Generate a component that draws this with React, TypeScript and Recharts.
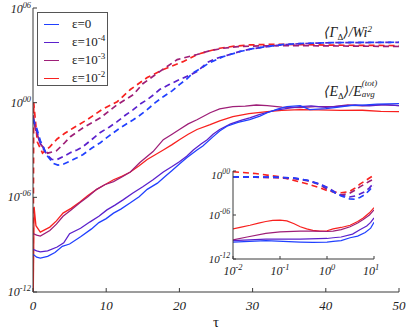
import React from "react";
import { LineChart, Line, XAxis, YAxis, CartesianGrid } from "recharts";

// colours per epsilon
const BLUE = "#2040ff";
const VIOLET = "#5b21cc";
const MAGENTA = "#9e1f78";
const RED = "#f8211f";

// ---- main panel: <E_delta>/E_avg (solid) ----
const tauE0 = [0, 0.5, 1, 2, 3, 4, 5, 6.5, 8, 9, 10, 11, 12, 13.3, 14.5, 15.6, 17, 18, 19, 20, 21, 22.4, 23.2, 24.5, 25.5, 26.5, 28, 29.6, 31, 32, 33.5, 34.7, 36.5, 37.8, 40, 41.5, 43.3, 45, 47, 50];
const energy0 = [2.5e-10, 1.6e-10, 1.4e-10, 1.8e-10, 3.2e-10, 7.9e-10, 1.1e-9, 3.2e-9, 1e-8, 2.5e-8, 4.5e-8, 1e-7, 1.8e-7, 4.5e-7, 1.1e-6, 3.2e-6, 7.9e-6, 2.0e-5, 5.0e-5, 1.3e-4, 3.2e-4, 1e-3, 1.8e-3, 6.3e-3, 1.6e-2, 3.2e-2, 5.6e-2, 8.3e-2, 0.14, 0.23, 0.4, 0.56, 0.65, 0.36, 0.42, 0.5, 0.65, 0.7, 0.8, 0.87];

const tauE4 = [0, 0.5, 1, 2, 3.3, 4.2, 5, 6.5, 7.8, 9, 10.1, 11.2, 12.3, 13.6, 15, 16.4, 17.8, 19, 20, 21, 21.9, 23, 23.8, 24.6, 25.5, 27, 28.5, 29.6, 31, 33, 35, 36.5, 38, 40, 42, 44, 46, 48, 50];
const energy4 = [5.0e-10, 4.0e-10, 3.5e-10, 4.0e-10, 7.1e-10, 1.3e-9, 5.0e-9, 1.1e-8, 2.8e-8, 6.3e-8, 1.6e-7, 3.2e-7, 6.9e-7, 1.8e-6, 4.7e-6, 1.3e-5, 4.0e-5, 8.9e-5, 1.8e-4, 4.0e-4, 1e-3, 2.5e-3, 4.5e-3, 1e-2, 2.0e-2, 4.5e-2, 7.9e-2, 0.11, 0.18, 0.32, 0.45, 0.56, 0.63, 0.5, 0.6, 0.71, 0.63, 0.76, 0.65];

const tauE3 = [0, 0.5, 1, 2.3, 3.2, 4.1, 5.2, 6.4, 7.5, 8.7, 9.8, 11, 12.2, 13.3, 14.6, 16.4, 17.8, 19, 20, 21.2, 22.4, 24.2, 25.5, 27.3, 29, 30.5, 32, 34, 36.5, 38.5, 41, 43, 45, 47.5, 50];
const energy3 = [5.0e-9, 4.0e-9, 3.5e-9, 7.9e-9, 2.0e-8, 6.3e-8, 1.6e-7, 4.5e-7, 1.1e-6, 3.2e-6, 6.3e-6, 1e-5, 2.0e-5, 4.0e-5, 1.6e-4, 7.9e-4, 4.5e-3, 1e-2, 2.0e-2, 4.5e-2, 8.3e-2, 0.23, 0.4, 0.56, 0.6, 0.71, 0.65, 0.52, 0.48, 0.56, 0.56, 0.71, 0.63, 0.76, 0.65];

const tauE2 = [0, 0.15, 0.4, 1, 2.3, 3.2, 4.1, 5.2, 6.4, 7.5, 8.7, 9.8, 11, 12.2, 13.3, 14.5, 15.6, 16.7, 17.8, 19, 20, 21.2, 22.4, 24.2, 25.5, 27.3, 29.5, 32, 34, 36.5, 39, 42, 45, 47.5, 50];
const energy2 = [1e-14, 2.5e-7, 1.6e-8, 6.3e-9, 1.3e-8, 3.2e-8, 1e-7, 2.0e-7, 5.0e-7, 1.3e-6, 3.2e-6, 6.3e-6, 1.3e-5, 2.2e-5, 4.0e-5, 1e-4, 2.5e-4, 5.0e-4, 1e-3, 2.2e-3, 4.5e-3, 1e-2, 2.0e-2, 4.0e-2, 7.1e-2, 0.13, 0.2, 0.27, 0.32, 0.36, 0.35, 0.32, 0.33, 0.28, 0.27];

// ---- main panel: <Gamma_delta>/Wi^2 (dashed) ----
const tauG0 = [0, 0.5, 1, 2, 2.8, 3.4, 4.2, 5.1, 6, 6.8, 8, 9.2, 10.4, 11.6, 12.6, 13.7, 14.6, 15.6, 16.7, 17.8, 19, 20, 21, 21.9, 23, 24, 26, 28.3, 30, 32, 34, 36.5, 41, 45, 50];
const gamma0 = [0.1, 2.5e-2, 4.0e-3, 4.0e-4, 1.4e-4, 1.1e-4, 1.3e-4, 2.0e-4, 3.2e-4, 5.0e-4, 1.3e-3, 2.9e-3, 7.9e-3, 2.0e-2, 4.0e-2, 8.3e-2, 0.16, 0.36, 1, 2.4, 5.6, 13.8, 31.6, 79, 158, 316, 832, 1738, 2630, 3631, 4786, 5623, 6457, 6607, 6761];

const tauG4 = [0, 0.5, 1, 1.9, 2.6, 3.3, 4.2, 5.2, 6, 6.8, 8, 9.2, 10.4, 11.5, 12.6, 13.7, 14.6, 15.6, 16.5, 17.3, 18.6, 20, 21.2, 22.4, 23.8, 25, 26.5, 28.3, 30, 32, 34, 36.5, 41, 45, 50];
const gamma4 = [7.9e-2, 1.6e-2, 2.5e-3, 5.0e-4, 2.5e-4, 2.5e-4, 4.0e-4, 7.1e-4, 1e-3, 1.6e-3, 4.5e-3, 1.3e-2, 2.8e-2, 6.3e-2, 0.16, 0.36, 0.79, 1.55, 3.2, 6.8, 14.1, 28.8, 50, 93, 347, 631, 1000, 1778, 2630, 3548, 4571, 5495, 6310, 6457, 6607];

const tauG3 = [0, 0.3, 1, 2, 3.2, 4.2, 5.1, 6.8, 9.2, 11.5, 13.7, 15, 17.3, 19.7, 22.4, 24.2, 26, 28, 31, 35, 40, 45, 50];
const gamma3 = [0.16, 2.5e-2, 2.5e-3, 6.3e-4, 8.9e-4, 2.5e-3, 6.9e-3, 2.5e-2, 0.11, 0.74, 3.2, 15.8, 93, 537, 1122, 1995, 2818, 3548, 3981, 4169, 3981, 3802, 3631];

const tauG2 = [0, 0.1, 0.6, 1.3, 2.3, 3.3, 4.3, 5.5, 7.4, 9.4, 11.5, 13.3, 15.6, 17.8, 20.5, 22.4, 23.8, 25.5, 27.5, 29.6, 33, 36.5, 40, 45, 50];
const gamma2 = [1e-14, 1, 3.2e-3, 6.3e-4, 1.6e-3, 5.0e-3, 1.1e-2, 2.5e-2, 8.3e-2, 0.36, 1.15, 6.8, 38.9, 126, 398, 1122, 1738, 2818, 3802, 4571, 5012, 4786, 4467, 4266, 4169];

// ---- inset (log time) ----
const insetTauG = [0.01, 0.03, 0.1, 0.2, 0.4, 0.7, 1, 1.5, 2, 3, 4, 5, 6.5, 8, 10];
const insetGamma0 = [0.16, 0.16, 0.14, 0.11, 5.0e-2, 1.6e-2, 5.0e-3, 1e-3, 4.0e-4, 1.6e-4, 1.4e-4, 2.5e-4, 6.3e-4, 2.5e-3, 1e-2];
const insetGamma4 = [0.16, 0.16, 0.14, 0.11, 5.0e-2, 1.8e-2, 6.3e-3, 1.3e-3, 5.0e-4, 2.8e-4, 4.0e-4, 7.1e-4, 1.6e-3, 5.0e-3, 2.5e-2];
const insetGamma3 = [0.16, 0.14, 0.11, 8.9e-2, 4.5e-2, 1.3e-2, 3.2e-3, 1e-3, 5.6e-4, 8.9e-4, 2.5e-3, 6.9e-3, 1.8e-2, 4.0e-2, 7.9e-2];
const insetGamma2 = [0.79, 0.45, 0.16, 5.0e-2, 1.6e-2, 5.0e-3, 2.2e-3, 1.3e-3, 1.1e-3, 1.6e-3, 5.0e-3, 1.6e-2, 4.5e-2, 0.11, 0.28];

const insetTauE0 = [0.01, 0.05, 0.27, 0.5, 1, 1.35, 2, 3.1, 4.5, 6.5, 8.5, 10];
const insetEnergy0 = [2.0e-10, 3.2e-10, 2.0e-10, 1.8e-10, 2.0e-10, 2.5e-10, 3.2e-10, 7.9e-10, 1.3e-9, 4.0e-9, 1.6e-8, 1e-7];
const insetTauE4 = [0.01, 0.05, 0.27, 1, 1.35, 2, 3.5, 5, 7, 8.5, 10];
const insetEnergy4 = [3.2e-10, 5.0e-10, 5.0e-10, 6.3e-10, 7.9e-10, 1e-9, 2.5e-9, 1e-8, 3.2e-8, 1e-7, 4.0e-7];
const insetTauE3 = [0.01, 0.02, 0.05, 0.1, 0.27, 0.5, 1, 1.35, 2, 3.1, 4.5, 5.9, 8, 10];
const insetEnergy3 = [4.0e-10, 1e-9, 3.2e-9, 5.0e-9, 6.3e-9, 6.3e-9, 5.6e-9, 6.3e-9, 1e-8, 2.5e-8, 7.9e-8, 2.5e-7, 1e-6, 5.0e-6];
const insetTauE2 = [0.01, 0.015, 0.023, 0.035, 0.05, 0.07, 0.1, 0.14, 0.2, 0.27, 0.37, 0.5, 0.7, 1, 1.35, 2, 3.1, 4.5, 5.9, 8, 10];
const insetEnergy2 = [1.3e-8, 2.2e-8, 4.0e-8, 7.9e-8, 1.3e-7, 1.8e-7, 2.0e-7, 1.6e-7, 6.3e-8, 2.5e-8, 1.3e-8, 7.9e-9, 6.3e-9, 7.1e-9, 1.3e-8, 2.0e-8, 4.0e-8, 1.3e-7, 4.0e-7, 2.0e-6, 1e-5];

// axis ticks
const mainXTicks = [0, 10, 20, 30, 40, 50];
const mainYTicks = [1e-12, 1e-6, 1, 1e6];
const insetXTicks = [0.01, 0.1, 1, 10];
const insetYTicks = [1e-12, 1e-6, 1];

const legendItems = [
  { color: BLUE, exp: "" },
  { color: VIOLET, exp: "-4" },
  { color: MAGENTA, exp: "-3" },
  { color: RED, exp: "-2" },
];

const pts = (t: number[], v: number[]) => t.map((tau, i) => ({ t: tau, v: v[i] }));

const FONT = "'Times New Roman', 'Liberation Serif', Times, 'DejaVu Serif', 'Noto Serif', serif";
const AXIS = "#3a3a3a";

const pad2 = (n: number) => {
  const s = String(Math.abs(n)).padStart(2, "0");
  return n < 0 ? "-" + s : s;
};

const PowTick = (props: any) => {
  const { x, y, payload, dx = 0, dy = 0, anchor = "end", size = 12, padded = true } = props;
  const e = Math.round(Math.log10(payload.value));
  return (
    <text x={x + dx} y={y + dy} textAnchor={anchor} fontFamily={FONT} fontStyle="italic" fontSize={size} fill="#222">
      <tspan>10</tspan>
      <tspan dy={-size * 0.42} fontSize={size * 0.7}>{padded ? pad2(e) : String(e)}</tspan>
    </text>
  );
};

const NumTick = (props: any) => {
  const { x, y, payload } = props;
  return (
    <text x={x} y={y + 10} textAnchor="middle" fontFamily={FONT} fontStyle="italic" fontSize={13} fill="#222">
      {payload.value}
    </text>
  );
};

const NoTick = () => null;

const series = [
  { id: "e0", color: BLUE, eT: tauE0, eV: energy0, gT: tauG0, gV: gamma0 },
  { id: "e4", color: VIOLET, eT: tauE4, eV: energy4, gT: tauG4, gV: gamma4 },
  { id: "e3", color: MAGENTA, eT: tauE3, eV: energy3, gT: tauG3, gV: gamma3 },
  { id: "e2", color: RED, eT: tauE2, eV: energy2, gT: tauG2, gV: gamma2 },
];

const insetSeries = [
  { id: "i0", color: BLUE, eT: insetTauE0, eV: insetEnergy0, gV: insetGamma0 },
  { id: "i4", color: VIOLET, eT: insetTauE4, eV: insetEnergy4, gV: insetGamma4 },
  { id: "i3", color: MAGENTA, eT: insetTauE3, eV: insetEnergy3, gV: insetGamma3 },
  { id: "i2", color: RED, eT: insetTauE2, eV: insetEnergy2, gV: insetGamma2 },
];

// red drawn first, blue last
const drawOrder = [3, 2, 1, 0];

export default function App() {
  return (
    <div style={{ position: "absolute", left: 0, top: 0, width: 407, height: 330, background: "#fff", fontFamily: FONT }}>
      <LineChart width={407} height={330} margin={{ top: 8, right: 8, bottom: 0, left: 0 }}>
        <XAxis
          type="number"
          dataKey="t"
          domain={[0, 50]}
          ticks={mainXTicks}
          allowDataOverflow
          height={38}
          stroke={AXIS}
          tickSize={-4}
          tickMargin={12}
          tick={<NumTick />}
          label={{ value: "τ", position: "insideBottom", offset: 3, fontFamily: FONT, fontSize: 15, fill: "#222" }}
        />
        <XAxis xAxisId="top" orientation="top" type="number" domain={[0, 50]} ticks={mainXTicks} allowDataOverflow height={0} stroke={AXIS} tickSize={-4} tick={NoTick} />
        <YAxis
          type="number"
          scale="log"
          domain={[1e-12, 1e6]}
          ticks={mainYTicks}
          allowDataOverflow
          width={33}
          stroke={AXIS}
          tickSize={-4}
          tickMargin={6}
          tick={<PowTick dy={4} />}
        />
        <YAxis yAxisId="right" orientation="right" type="number" scale="log" domain={[1e-12, 1e6]} ticks={mainYTicks} allowDataOverflow width={0} stroke={AXIS} tickSize={-4} tick={NoTick} />
        {drawOrder.map((k) => {
          const s = series[k];
          return [
            <Line key={s.id + "e"} data={pts(s.eT, s.eV)} dataKey="v" type="linear" stroke={s.color} strokeWidth={1.3} dot={false} isAnimationActive={false} />,
            <Line key={s.id + "g"} data={pts(s.gT, s.gV)} dataKey="v" type="linear" stroke={s.color} strokeWidth={1.7} strokeDasharray="6 4" dot={false} isAnimationActive={false} />,
          ];
        })}
      </LineChart>

      {/* legend */}
      <div style={{ position: "absolute", left: 37, top: 12, width: 69, height: 72, border: "1px solid #555", background: "#fff", fontFamily: FONT, fontSize: 13, color: "#222" }}>
        {legendItems.map((it, i) => (
          <div key={i} style={{ position: "absolute", left: 0, top: 3 + i * 18, height: 16, width: 69 }}>
            <div style={{ position: "absolute", left: 6, top: 8, width: 15, height: 0, borderTop: `1.5px solid ${it.color}` }} />
            <div style={{ position: "absolute", left: 34, top: 0, whiteSpace: "nowrap", lineHeight: "16px" }}>
              ε={it.exp === "" ? "0" : <>10<sup style={{ fontSize: 9, verticalAlign: 5, lineHeight: 0 }}>{it.exp}</sup></>}
            </div>
          </div>
        ))}
      </div>

      {/* annotations */}
      <div style={{ position: "absolute", left: 324, top: 24, fontFamily: FONT, fontStyle: "italic", fontSize: 14, color: "#222", whiteSpace: "nowrap" }}>
        ⟨Γ<sub style={{ fontSize: 9, fontStyle: "normal", verticalAlign: -3, lineHeight: 0 }}>Δ</sub>⟩/Wi<sup style={{ fontSize: 9, verticalAlign: 5, lineHeight: 0 }}>2</sup>
      </div>
      <div style={{ position: "absolute", left: 324, top: 83, fontFamily: FONT, fontStyle: "italic", fontSize: 14, color: "#222", whiteSpace: "nowrap" }}>
        ⟨E<sub style={{ fontSize: 9, fontStyle: "normal", verticalAlign: -3, lineHeight: 0 }}>Δ</sub>⟩/E
        <span style={{ display: "inline-block", position: "relative", width: 20, height: 10 }}>
          <span style={{ position: "absolute", left: 0, top: -8, fontSize: 9 }}>(tot)</span>
          <span style={{ position: "absolute", left: 0, top: 3, fontSize: 9 }}>avg</span>
        </span>
      </div>

      {/* inset */}
      <div style={{ position: "absolute", left: 201, top: 166 }}>
        <LineChart width={178} height={115} margin={{ top: 5, right: 5, bottom: 0, left: 0 }}>
          <CartesianGrid horizontal={false} vertical={false} fill="#fff" />
          <XAxis
            type="number"
            dataKey="t"
            scale="log"
            domain={[0.01, 10]}
            ticks={insetXTicks}
            allowDataOverflow
            height={22}
            stroke={AXIS}
            tickSize={-3}
            tickMargin={10}
            tick={<PowTick anchor="middle" dy={9} padded={false} size={12} />}
          />
          <XAxis xAxisId="top" orientation="top" type="number" scale="log" domain={[0.01, 10]} ticks={insetXTicks} allowDataOverflow height={0} stroke={AXIS} tickSize={-3} tick={NoTick} />
          <YAxis
            type="number"
            scale="log"
            domain={[1e-12, 1]}
            ticks={insetYTicks}
            allowDataOverflow
            width={32}
            stroke={AXIS}
            tickSize={-3}
            tickMargin={6}
            tick={<PowTick dy={4} size={11} />}
          />
          <YAxis yAxisId="right" orientation="right" type="number" scale="log" domain={[1e-12, 1]} ticks={insetYTicks} allowDataOverflow width={0} stroke={AXIS} tickSize={-3} tick={NoTick} />
          {drawOrder.map((k) => {
            const s = insetSeries[k];
            return [
              <Line key={s.id + "e"} data={pts(s.eT, s.eV)} dataKey="v" type="linear" stroke={s.color} strokeWidth={1.2} dot={false} isAnimationActive={false} />,
              <Line key={s.id + "g"} data={pts(insetTauG, s.gV)} dataKey="v" type="linear" stroke={s.color} strokeWidth={1.6} strokeDasharray="6 4" dot={false} isAnimationActive={false} />,
            ];
          })}
        </LineChart>
      </div>
    </div>
  );
}
